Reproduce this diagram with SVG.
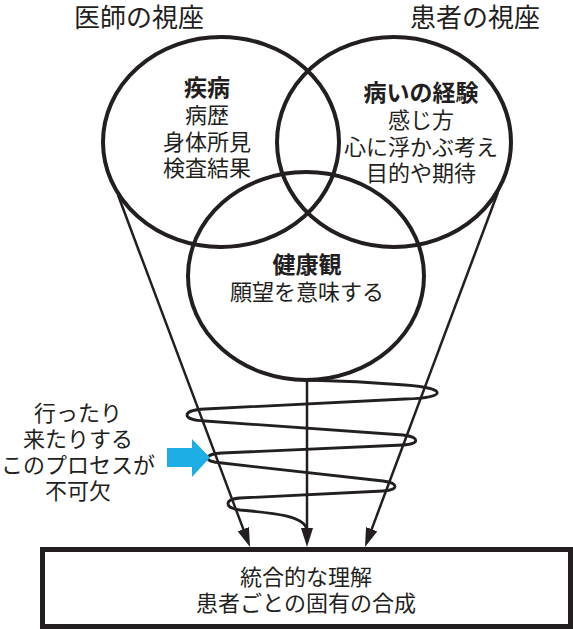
<svg xmlns="http://www.w3.org/2000/svg" width="573" height="629" viewBox="0 0 573 629">
<style>
text{font-family:"Noto Sans CJK JP","Noto Sans",sans-serif;fill:#231f20;text-anchor:middle}
.t{font-size:26px}
.r{font-size:22px}
.b{font-size:23px;font-weight:bold}
.ring{fill:none;stroke:#231f20;stroke-width:4}
.ln{fill:none;stroke:#231f20;stroke-width:2.5}
.sp{fill:none;stroke:#231f20;stroke-width:2.8;stroke-linejoin:round}
</style>
<defs>
<marker id="ah" markerUnits="userSpaceOnUse" markerWidth="19" markerHeight="12" viewBox="0 0 19 12" refX="13" refY="6" orient="auto">
<path d="M0,0 L19,6 L0,12 Z" fill="#231f20"/>
</marker>
</defs>
<rect width="573" height="629" fill="#fff"/>
<text class="t" x="139" y="27">医師の視座</text>
<text class="t" x="475" y="27">患者の視座</text>
<g id="doctor">
<ellipse class="ring" cx="221" cy="142" rx="118" ry="105"/>
<text class="b" x="207" y="96">疾病</text>
<text class="r" x="207" y="123">病歴</text>
<text class="r" x="207" y="150">身体所見</text>
<text class="r" x="207" y="176">検査結果</text>
</g>
<g id="patient">
<ellipse class="ring" cx="394" cy="142" rx="117" ry="105"/>
<text class="b" x="421" y="101">病いの経験</text>
<text class="r" x="421" y="128">感じ方</text>
<text class="r" x="421" y="155">心に浮かぶ考え</text>
<text class="r" x="421" y="181">目的や期待</text>
</g>
<g id="health">
<ellipse class="ring" cx="306" cy="276" rx="118" ry="104"/>
<text class="b" x="307" y="273">健康観</text>
<text class="r" x="307" y="300">願望を意味する</text>
</g>
<g id="connectors">
<line class="ln" x1="118" y1="195" x2="247.9" y2="541.4" marker-end="url(#ah)"/>
<line class="ln" x1="307" y1="380" x2="307" y2="541" marker-end="url(#ah)"/>
<line class="ln" x1="498" y1="192" x2="367.1" y2="541.4" marker-end="url(#ah)"/>
<path class="sp" d="M307,380 C350,381 380,383 405,385 C448,388 448,398 405,399 L205,409 C181,410 181,420 205,421 L403,435 C420,437 420,444 403,445 L222,453 C203,454 203,462 222,463 L383,481 C399,483 399,490 383,491 L240,498 C224,499 224,508 240,510 C275,513 305,516 307,530"/>
</g>
<g id="process">
<polygon points="167,448 192,448 192,439 210,457.5 192,477 192,467 167,467" fill="#1caee4"/>
<text class="r" x="78" y="421">行ったり</text>
<text class="r" x="78" y="447">来たりする</text>
<text class="r" x="78" y="473">このプロセスが</text>
<text class="r" x="78" y="499">不可欠</text>
</g>
<g id="result">
<rect x="42.5" y="549.5" width="528" height="77" fill="none" stroke="#231f20" stroke-width="5"/>
<text class="r" x="306" y="585">統合的な理解</text>
<text class="r" x="306" y="611">患者ごとの固有の合成</text>
</g>
</svg>
